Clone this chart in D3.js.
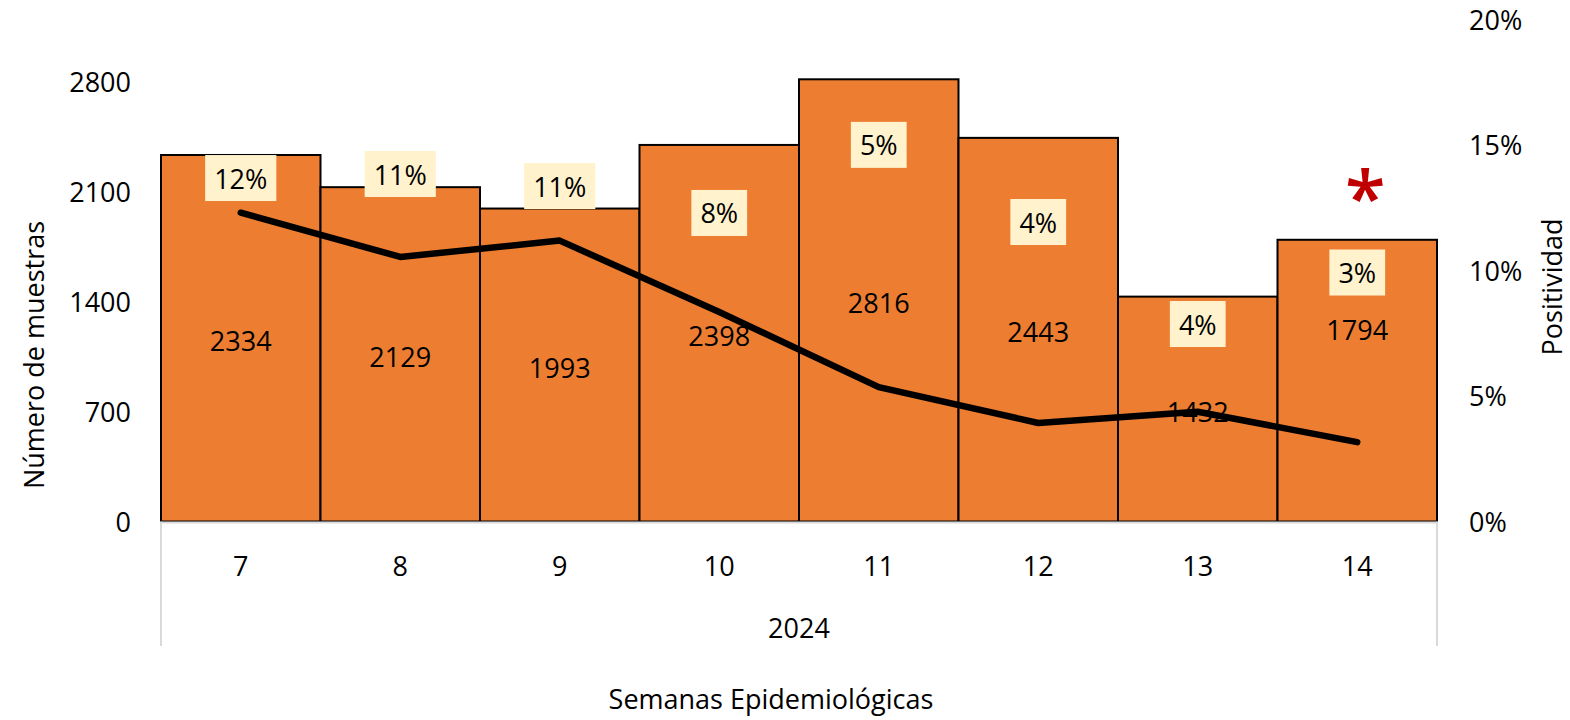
<!DOCTYPE html>
<html>
<head>
<meta charset="utf-8">
<script src="https://cdn.jsdelivr.net/npm/d3@7"></script>
<style>
  html, body { margin: 0; padding: 0; background: #fff; }
  svg { display: block; }
  text { font-family: "Open Sans", Lato, sans-serif; fill: #000; }
</style>
</head>
<body>
<svg id="chart" width="1570" height="720"></svg>
<script>
// ---- data ----
const weeks = ["7", "8", "9", "10", "11", "12", "13", "14"];
const year = "2024";
const samples = [2334, 2129, 1993, 2398, 2816, 2443, 1432, 1794];
const positivity = [0.1229, 0.1053, 0.1118, 0.0834, 0.0535, 0.0392, 0.0437, 0.0316];
const positivityLabels = ["12%", "11%", "11%", "8%", "5%", "4%", "4%", "3%"];
const leftTicks = [0, 700, 1400, 2100, 2800];
const rightTicks = [0, 0.05, 0.10, 0.15, 0.20];
// label anchors (in axis units)
const positivityLabelAt = [0.1367, 0.1383, 0.1335, 0.1228, 0.1499, 0.1192, 0.0786, 0.0991];
const sampleLabelAt = [1167, 1064.5, 996.5, 1199, 1408, 1221.5, 716, 1237];
const flaggedWeek = "14";

// ---- layout ----
const svg = d3.select("#chart");
const plot = { left: 161, right: 1437, top: 19, bottom: 521.5 };
const FS = 27;

const x = d3.scaleBand().domain(weeks).range([plot.left, plot.right]).paddingInner(0).paddingOuter(0);
const yL = d3.scaleLinear().domain([0, 3200]).range([plot.bottom, plot.top]);
const yR = d3.scaleLinear().domain([0, 0.20]).range([plot.bottom, plot.top]);

// bars
svg.append("g").selectAll("rect").data(weeks).join("rect")
  .attr("x", d => x(d))
  .attr("y", (d, i) => yL(samples[i]))
  .attr("width", x.bandwidth())
  .attr("height", (d, i) => yL(0) - yL(samples[i]))
  .attr("fill", "#ED7D31")
  .attr("stroke", "#000")
  .attr("stroke-width", 2);

// x axis baseline + group separators
const ax = svg.append("g").attr("stroke", "#D9D9D9").attr("stroke-width", 2);
ax.append("line").attr("x1", plot.left).attr("x2", plot.right).attr("y1", yL(0) + 1).attr("y2", yL(0) + 1);
ax.append("line").attr("x1", plot.left).attr("x2", plot.left).attr("y1", yL(0)).attr("y2", 646);
ax.append("line").attr("x1", plot.right).attr("x2", plot.right).attr("y1", yL(0)).attr("y2", 646);

// sample labels
svg.append("g").selectAll("text").data(weeks).join("text")
  .attr("x", d => x(d) + x.bandwidth() / 2)
  .attr("y", (d, i) => yL(sampleLabelAt[i]) + 2)
  .attr("text-anchor", "middle")
  .attr("dominant-baseline", "central")
  .attr("font-size", FS)
  .text((d, i) => samples[i]);

// positivity line
const line = d3.line()
  .x((d, i) => x(weeks[i]) + x.bandwidth() / 2)
  .y(d => yR(d));
svg.append("path")
  .datum(positivity)
  .attr("d", line)
  .attr("fill", "none")
  .attr("stroke", "#000")
  .attr("stroke-width", 6.5)
  .attr("stroke-linejoin", "round")
  .attr("stroke-linecap", "round");

// positivity labels with boxes
const pl = svg.append("g").selectAll("g").data(weeks).join("g")
  .attr("transform", (d, i) => `translate(${x(d) + x.bandwidth() / 2},${yR(positivityLabelAt[i])})`);
pl.append("text")
  .attr("text-anchor", "middle")
  .attr("dominant-baseline", "central")
  .attr("font-size", FS)
  .text((d, i) => positivityLabels[i]);
pl.each(function () {
  const g = d3.select(this);
  const bb = g.select("text").node().getBBox();
  g.insert("rect", "text")
    .attr("x", bb.x - 9)
    .attr("y", -23)
    .attr("width", bb.width + 18)
    .attr("height", 46)
    .attr("fill", "#FFF2CC");
});

// flag asterisk
svg.append("text")
  .attr("x", x(flaggedWeek) + x.bandwidth() / 2 + 8)
  .attr("y", 224)
  .attr("text-anchor", "middle")
  .attr("font-size", 74)
  .attr("font-weight", "600")
  .style("fill", "#C00000")
  .text("*");

// left axis labels
svg.append("g").selectAll("text").data(leftTicks).join("text")
  .attr("x", 131)
  .attr("y", d => yL(d))
  .attr("text-anchor", "end")
  .attr("dominant-baseline", "central")
  .attr("font-size", FS)
  .text(d => d);

// right axis labels
const pct = d3.format(".0%");
svg.append("g").selectAll("text").data(rightTicks).join("text")
  .attr("x", 1469)
  .attr("y", d => yR(d))
  .attr("text-anchor", "start")
  .attr("dominant-baseline", "central")
  .attr("font-size", FS)
  .text(d => pct(d));

// category labels
svg.append("g").selectAll("text").data(weeks).join("text")
  .attr("x", d => x(d) + x.bandwidth() / 2)
  .attr("y", 565)
  .attr("text-anchor", "middle")
  .attr("dominant-baseline", "central")
  .attr("font-size", FS)
  .text(d => d);

svg.append("text")
  .attr("x", (plot.left + plot.right) / 2)
  .attr("y", 627)
  .attr("text-anchor", "middle")
  .attr("dominant-baseline", "central")
  .attr("font-size", FS)
  .text(year);

// axis titles
svg.append("text")
  .attr("x", 771)
  .attr("y", 698)
  .attr("text-anchor", "middle")
  .attr("dominant-baseline", "central")
  .attr("font-size", FS)
  .text("Semanas Epidemiológicas");

svg.append("text")
  .attr("transform", "translate(33,355) rotate(-90)")
  .attr("text-anchor", "middle")
  .attr("dominant-baseline", "central")
  .attr("font-size", FS)
  .text("Número de muestras");

svg.append("text")
  .attr("transform", "translate(1551,287) rotate(-90)")
  .attr("text-anchor", "middle")
  .attr("dominant-baseline", "central")
  .attr("font-size", FS)
  .text("Positividad");
</script>
</body>
</html>
